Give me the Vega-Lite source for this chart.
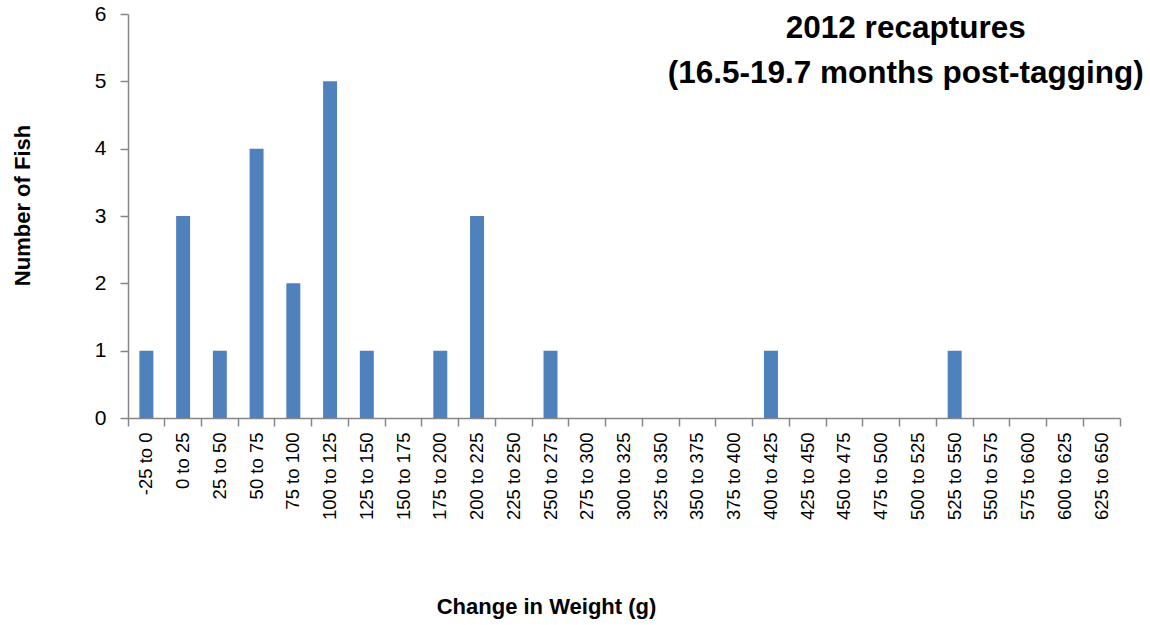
{
  "$schema": "https://vega.github.io/schema/vega-lite/v6.json",
  "autosize": {"type": "none"},
  "width": 992,
  "height": 404,
  "padding": {"left": 128, "top": 14, "right": 30, "bottom": 207},
  "background": "white",
  "title": {
    "text": ["2012 recaptures", "(16.5-19.7 months post-tagging)"],
    "anchor": "end",
    "align": "center",
    "baseline": "top",
    "dx": -215,
    "offset": -86,
    "font": "Liberation Sans",
    "fontSize": 31.5,
    "fontWeight": "bold",
    "color": "#000000",
    "lineHeight": 45
  },
  "data": {
    "values": [
      {"bin": "-25 to 0", "n": 1},
      {"bin": "0 to 25", "n": 3},
      {"bin": "25 to 50", "n": 1},
      {"bin": "50 to 75", "n": 4},
      {"bin": "75 to 100", "n": 2},
      {"bin": "100 to 125", "n": 5},
      {"bin": "125 to 150", "n": 1},
      {"bin": "150 to 175", "n": 0},
      {"bin": "175 to 200", "n": 1},
      {"bin": "200 to 225", "n": 3},
      {"bin": "225 to 250", "n": 0},
      {"bin": "250 to 275", "n": 1},
      {"bin": "275 to 300", "n": 0},
      {"bin": "300 to 325", "n": 0},
      {"bin": "325 to 350", "n": 0},
      {"bin": "350 to 375", "n": 0},
      {"bin": "375 to 400", "n": 0},
      {"bin": "400 to 425", "n": 1},
      {"bin": "425 to 450", "n": 0},
      {"bin": "450 to 475", "n": 0},
      {"bin": "475 to 500", "n": 0},
      {"bin": "500 to 525", "n": 0},
      {"bin": "525 to 550", "n": 1},
      {"bin": "550 to 575", "n": 0},
      {"bin": "575 to 600", "n": 0},
      {"bin": "600 to 625", "n": 0},
      {"bin": "625 to 650", "n": 0}
    ]
  },
  "mark": {"type": "bar", "color": "#4F81BD", "width": {"band": 0.38}},
  "encoding": {
    "x": {
      "field": "bin",
      "type": "nominal",
      "sort": null,
      "scale": {"paddingInner": 0, "paddingOuter": 0},
      "axis": {
        "title": "Change in Weight (g)",
        "titleFont": "Liberation Sans",
        "titleFontSize": 22,
        "titleFontWeight": "bold",
        "titleColor": "#000000",
        "titleX": 418,
        "titleY": 188,
        "titleBaseline": "middle",
        "titleAlign": "center",
        "labelAngle": -90,
        "labelFont": "Liberation Sans",
        "labelFontSize": 18.5,
        "labelColor": "#000000",
        "labelPadding": 6,
        "labelOverlap": false,
        "bandPosition": 1,
        "tickExtra": true,
        "tickSize": 8,
        "tickColor": "#868686",
        "domainColor": "#868686",
        "domainWidth": 1.5,
        "tickWidth": 1.5
      }
    },
    "y": {
      "field": "n",
      "type": "quantitative",
      "scale": {"domain": [0, 6]},
      "axis": {
        "title": "Number of Fish",
        "titleFont": "Liberation Sans",
        "titleFontSize": 22,
        "titleFontWeight": "bold",
        "titleColor": "#000000",
        "titleAngle": -90,
        "titleX": -106,
        "titleY": 191,
        "titleBaseline": "middle",
        "titleAlign": "center",
        "values": [0, 1, 2, 3, 4, 5, 6],
        "grid": false,
        "labelFont": "Liberation Sans",
        "labelFontSize": 21,
        "labelColor": "#000000",
        "labelPadding": 14,
        "tickSize": 8,
        "tickColor": "#868686",
        "domainColor": "#868686",
        "domainWidth": 1.5,
        "tickWidth": 1.5
      }
    }
  },
  "config": {"view": {"stroke": null}}
}
